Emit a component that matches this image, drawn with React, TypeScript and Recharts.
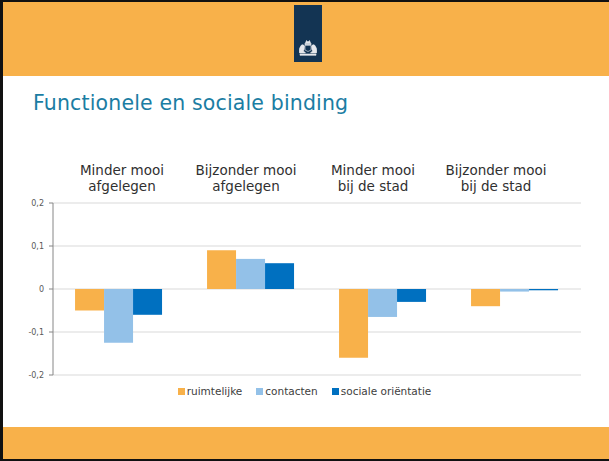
import {
  BarChart,
  Bar,
  XAxis,
  YAxis,
  CartesianGrid,
  Legend,
} from "recharts";

const categoryTop = ["Minder mooi", "Bijzonder mooi", "Minder mooi", "Bijzonder mooi"];
const categoryBottom = ["afgelegen", "afgelegen", "bij de stad", "bij de stad"];

const ruimtelijke = [-0.05, 0.09, -0.16, -0.04];
const contacten = [-0.125, 0.07, -0.065, -0.006];
const socialeOrientatie = [-0.06, 0.06, -0.03, -0.003];

const yTicks = [-0.2, -0.1, 0, 0.1, 0.2];

const seriesNames = ["ruimtelijke", "contacten", "sociale oriëntatie"];
const seriesColors = ["#F8B14A", "#93C1E8", "#0070C0"];

const data = categoryTop.map((top, i) => ({
  name: top + " " + categoryBottom[i],
  ruimtelijke: ruimtelijke[i],
  contacten: contacten[i],
  sociale: socialeOrientatie[i],
}));

// labels in the original are not exactly centred on the groups
const labelShift = [3, -5, -10, -19];

const FONT = "'DejaVu Sans', Verdana, sans-serif";

const CategoryTick = (props: any) => {
  const { x, y, index } = props;
  const cx = x + labelShift[index];
  return (
    <g>
      <text x={cx} y={y - 20} textAnchor="middle" fontSize={13.5} fill="#303030" fontFamily={FONT}>
        {categoryTop[index]}
      </text>
      <text x={cx} y={y - 4} textAnchor="middle" fontSize={13.5} fill="#303030" fontFamily={FONT}>
        {categoryBottom[index]}
      </text>
    </g>
  );
};

const LegendContent = () => (
  <div style={{ display: "flex", justifyContent: "center", fontFamily: FONT, fontSize: 10.5, color: "#404040" }}>
    {seriesNames.map((n, i) => (
      <span key={n} style={{ display: "inline-flex", alignItems: "center", marginRight: i < 2 ? 14 : 0 }}>
        <span style={{ width: 7, height: 7, background: seriesColors[i], display: "inline-block", marginRight: 2 }} />
        {n}
      </span>
    ))}
  </div>
);

const Emblem = () => (
  <svg width={28} height={57} style={{ position: "absolute", left: 294, top: 5 }}>
    <rect x={0} y={0} width={28} height={57} fill="#133453" />
    <g fill="#E6E8EC" stroke="#E6E8EC" strokeWidth={0.6}>
      <path d="M11.5 38 L12.5 35.5 L14 37 L15.5 35.5 L16.5 38 Z" />
      <rect x={11} y={38.5} width={6} height={1.2} />
      <path d="M11 40.5 h6 v4.5 q-3 3 -6 0 Z" fill="#133453" />
      <path d="M5.5 48 q-1 -5 2 -8 q2 -1 3 1 q0 3 -1 5 l2 2 Z" />
      <path d="M22.5 48 q1 -5 -2 -8 q-2 -1 -3 1 q0 3 1 5 l-2 2 Z" />
      <path d="M6 49 h16 v1.3 h-16 Z" />
    </g>
  </svg>
);

const App = () => {
  return (
    <div
      style={{
        position: "absolute",
        left: 0,
        top: 0,
        width: 609,
        height: 461,
        background: "#ffffff",
        overflow: "hidden",
        fontFamily: FONT,
      }}
    >
      {/* header band */}
      <div style={{ position: "absolute", left: 0, top: 0, width: 609, height: 76, background: "#F8B14A" }} />
      {/* footer band */}
      <div style={{ position: "absolute", left: 0, top: 427, width: 609, height: 34, background: "#F8B14A" }} />
      {/* black frame */}
      <div style={{ position: "absolute", left: 0, top: 0, width: 609, height: 2, background: "#111" }} />
      <div style={{ position: "absolute", left: 0, top: 0, width: 3, height: 461, background: "#111" }} />
      <div style={{ position: "absolute", left: 0, top: 459, width: 609, height: 2, background: "#111" }} />
      <Emblem />

      <div
        style={{
          position: "absolute",
          left: 33,
          top: 91,
          fontSize: 20.5,
          letterSpacing: 0.15,
          color: "#1B7DA3",
          fontFamily: FONT,
          whiteSpace: "nowrap",
        }}
      >
        Functionele en sociale binding
      </div>

      <div style={{ position: "absolute", left: 0, top: 0 }}>
        <BarChart
          width={609}
          height={461}
          data={data}
          margin={{ top: 163, right: 28, bottom: 74, left: 0 }}
          barCategoryGap="16.7%"
          barGap={0}
        >
          <CartesianGrid vertical={false} stroke="#D9D9D9" strokeWidth={1} />
          <XAxis
            dataKey="name"
            orientation="top"
            height={40}
            axisLine={false}
            tickLine={false}
            tick={<CategoryTick />}
            interval={0}
          />
          <YAxis
            width={53}
            domain={[-0.2, 0.2]}
            ticks={yTicks}
            allowDataOverflow
            axisLine={{ stroke: "#868686" }}
            tickLine={{ stroke: "#868686" }}
            tickSize={4}
            tickMargin={5}
            tick={{ fontSize: 8, fill: "#595959", fontFamily: FONT }}
            tickFormatter={(v: number) => (v === 0 ? "0" : v.toFixed(1).replace(".", ","))}
          />
          <Legend
            content={<LegendContent />}
            wrapperStyle={{ position: "absolute", top: 385, left: 0, width: 609 }}
          />
          <Bar dataKey="ruimtelijke" name={seriesNames[0]} fill={seriesColors[0]} isAnimationActive={false} />
          <Bar dataKey="contacten" name={seriesNames[1]} fill={seriesColors[1]} isAnimationActive={false} />
          <Bar dataKey="sociale" name={seriesNames[2]} fill={seriesColors[2]} isAnimationActive={false} />
        </BarChart>
      </div>
    </div>
  );
};

export default App;
